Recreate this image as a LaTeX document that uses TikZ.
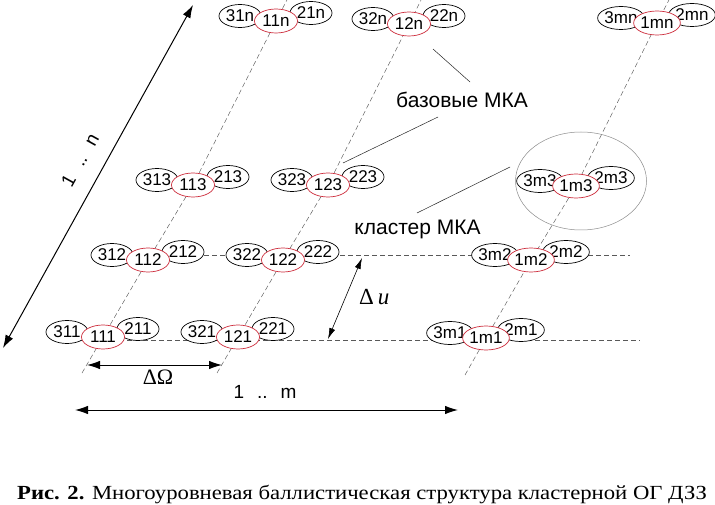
\documentclass[tikz,border=0pt]{standalone}
\usepackage{fontspec}
\setmainfont{Liberation Sans}
\newfontfamily\seriffont{Liberation Serif}
\usetikzlibrary{shapes.geometric,arrows.meta}
\definecolor{satred}{RGB}{205,45,60}
\pgfdeclarelayer{bg}
\pgfsetlayers{bg,main}
\newcommand\satgroup[5]{%
  \node[sat] (l#1) at (#2-36,#3-5) {#4};
  \node[sat] (r#1) at (#2+35,#3-8) {#5};
  \node[basesat] (b#1) at (#2,#3) {#1};
}
\begin{document}
\begin{tikzpicture}[x=1pt,y=-1pt,
  sat/.style={ellipse,draw=black,line width=0.7pt,fill=white,minimum width=42pt,
    minimum height=23pt,inner sep=0pt,font=\fontsize{17}{17}\selectfont},
  basesat/.style={sat,draw=satred,minimum width=43pt,minimum height=24pt},
  guide/.style={draw=black!65,line width=0.45pt,dash pattern=on 5pt off 3pt},
  dimarrow/.style={line width=1pt,{Latex[length=13pt,width=8.5pt]}-{Latex[length=13pt,width=8.5pt]}},
  thinarrow/.style={line width=0.6pt,{Latex[length=11pt,width=6pt]}-{Latex[length=11pt,width=6pt]}},
  leader/.style={line width=0.5pt,draw=black!85},
  lbl/.style={inner sep=0pt,font=\fontsize{21}{21}\selectfont},
]
\useasboundingbox (0,0) rectangle (715,505);

% satellite groups
\satgroup{111}{103}{337}{311}{211}
\satgroup{121}{238}{337}{321}{221}
\satgroup{1m1}{486}{338}{3m1}{2m1}
\satgroup{112}{148}{260}{312}{212}
\satgroup{122}{283}{260}{322}{222}
\satgroup{1m2}{531}{260}{3m2}{2m2}
\satgroup{113}{193}{185}{313}{213}
\satgroup{123}{328}{185}{323}{223}
\satgroup{1m3}{576}{186}{3m3}{2m3}
\satgroup{11n}{276}{21}{31n}{21n}
\satgroup{12n}{409}{24}{32n}{22n}
\satgroup{1mn}{657}{23}{3mn}{2mn}

% guide coordinates
\coordinate (c1bot) at (82,373);
\coordinate (c1top) at (287,0);
\coordinate (c2bot) at (217,373);
\coordinate (c2top) at (421,0);
\coordinate (cmbot) at (465,375);
\coordinate (cmtop) at (669,0);
\coordinate (h1s) at (103,340);
\coordinate (h1e) at (640,340);
\coordinate (h2s) at (148,255);
\coordinate (h2e) at (630,255);

\begin{pgfonlayer}{bg}
  \fill[white] (0,0) rectangle (715,505);
  \draw[guide] (c1bot) -- (b111.center) -- (b112.center) -- (b113.center) -- (b11n.center) -- (c1top);
  \draw[guide] (c2bot) -- (b121.center) -- (b122.center) -- (b123.center) -- (b12n.center) -- (c2top);
  \draw[guide] (cmbot) -- (b1m1.center) -- (b1m2.center) -- (b1m3.center) -- (b1mn.center) -- (cmtop);
  \draw[guide] (h1s) -- (h1e);
  \draw[guide] (h2s) -- (h2e);
\end{pgfonlayer}

% cluster outline
\node[ellipse,draw=black!45,line width=0.5pt,minimum width=131pt,minimum height=98pt,inner sep=0pt] (clu) at (581,181) {};

% labels
\node[lbl,anchor=base] (bas) at (462,108) {базовые МКА};
\node[lbl,anchor=base] (kla) at (417.5,235) {кластер МКА};

% leader lines
\coordinate (la1) at (433,49);
\coordinate (la2) at (470,82);
\coordinate (lb1) at (438,117);
\coordinate (lb2) at (343,163);
\coordinate (lc1) at (417,213);
\coordinate (lc2) at (510,167);
\draw[leader] (la1) -- (la2);
\draw[leader] (lb1) -- (lb2);
\draw[leader] (lc1) -- (lc2);

% 1 .. n arrow
\coordinate (n1) at (3,348);
\coordinate (n2) at (193,5);
\draw[dimarrow] (n1) -- (n2);
\node[inner sep=0pt,rotate=61,font=\fontsize{19}{19}\selectfont] (nlab) at (80,160) {1\hspace{13pt}..\hspace{13pt}n};

% Delta Omega arrow
\coordinate (o1) at (87,365);
\coordinate (o2) at (222,365);
\draw[dimarrow] (o1) -- (o2);
\node[inner sep=0pt,anchor=base,font=\seriffont\fontsize{22}{22}\selectfont] (om) at (158,384) {ΔΩ};

% 1 .. m arrow
\coordinate (m1) at (75,410);
\coordinate (m2) at (458,410);
\draw[dimarrow] (m1) -- (m2);
\node[inner sep=0pt,anchor=base,font=\fontsize{19}{19}\selectfont] (mlab) at (265,398) {1\hspace{13pt}..\hspace{13pt}m};

% Delta u arrow
\coordinate (u1) at (328,339);
\coordinate (u2) at (362,258);
\draw[thinarrow] (u1) -- (u2);
\node[inner sep=0pt,anchor=base west,font=\seriffont\fontsize{23}{23}\selectfont] (du) at (359,304) {Δ\,\textit{u}};

% caption
\node[inner sep=0pt,anchor=base west,font=\seriffont\fontsize{20}{20}\selectfont] (cap) at (17,499)
  {\scalebox{1.135}[1]{\textbf{Рис. 2.} Многоуровневая баллистическая структура кластерной ОГ ДЗЗ}};
\end{tikzpicture}
\end{document}
